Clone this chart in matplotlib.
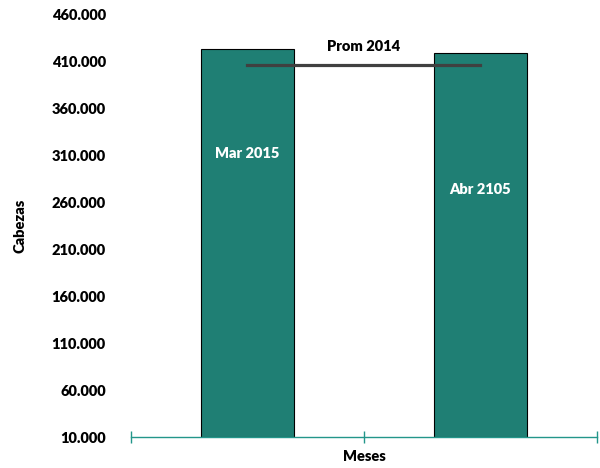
import matplotlib
matplotlib.use("Agg")
import matplotlib.pyplot as plt
from matplotlib.ticker import FuncFormatter

categories = ["Mar 2015", "Abr 2105"]
values = [422500, 418500]
prom_label = "Prom 2014"
prom_values = [405500, 405500]
label_y = [312000, 273000]
yticks = list(range(10000, 460001, 50000))

plt.rcParams['font.family'] = ['Lato', 'DejaVu Sans']
W = 'heavy'

bar_color = "#1F7F74"
teal = "#23968A"

fig = plt.figure(figsize=(6, 4.68), dpi=100)
ax = fig.add_axes([0.218, 0.066, 0.777, 0.904])

x = list(range(len(categories)))
ax.bar(x, [v - 10000 for v in values], bottom=10000, width=0.4,
       color=bar_color, edgecolor="black", linewidth=0.8, zorder=2)
ax.plot(x, prom_values, color="#404040", linewidth=2.3, zorder=3)
ax.text(0.5, prom_values[0] + 20500, prom_label, ha="center", va="center",
        fontsize=10.5, fontweight=W, color="black")
for xi, cat, ly in zip(x, categories, label_y):
    ax.text(xi, ly, cat, ha="center", va="center", fontsize=10.5,
            fontweight=W, color="white", zorder=4)

ax.set_xlim(-0.5, 1.5)
ax.set_ylim(10000, 460000)
ax.set_yticks(yticks)
ax.yaxis.set_major_formatter(FuncFormatter(lambda v, p: f"{int(v):,}".replace(",", ".")))
ax.set_xticks([-0.5, 0.5, 1.5])
ax.set_xticklabels([])
for s in ["top", "right", "left"]:
    ax.spines[s].set_visible(False)
ax.spines["bottom"].set_color(teal)
ax.spines["bottom"].set_linewidth(1.0)
ax.tick_params(axis="x", direction="inout", length=9, color=teal, width=1.0)
ax.tick_params(axis="y", length=0, pad=18, labelsize=10.5)
for lbl in ax.get_yticklabels():
    lbl.set_fontweight(W)
ax.set_ylabel("Cabezas", fontsize=10.5, fontweight=W, labelpad=18)
ax.set_xlabel("Meses", fontsize=10.5, fontweight=W, labelpad=1)

fig.savefig("out.png", dpi=100)
